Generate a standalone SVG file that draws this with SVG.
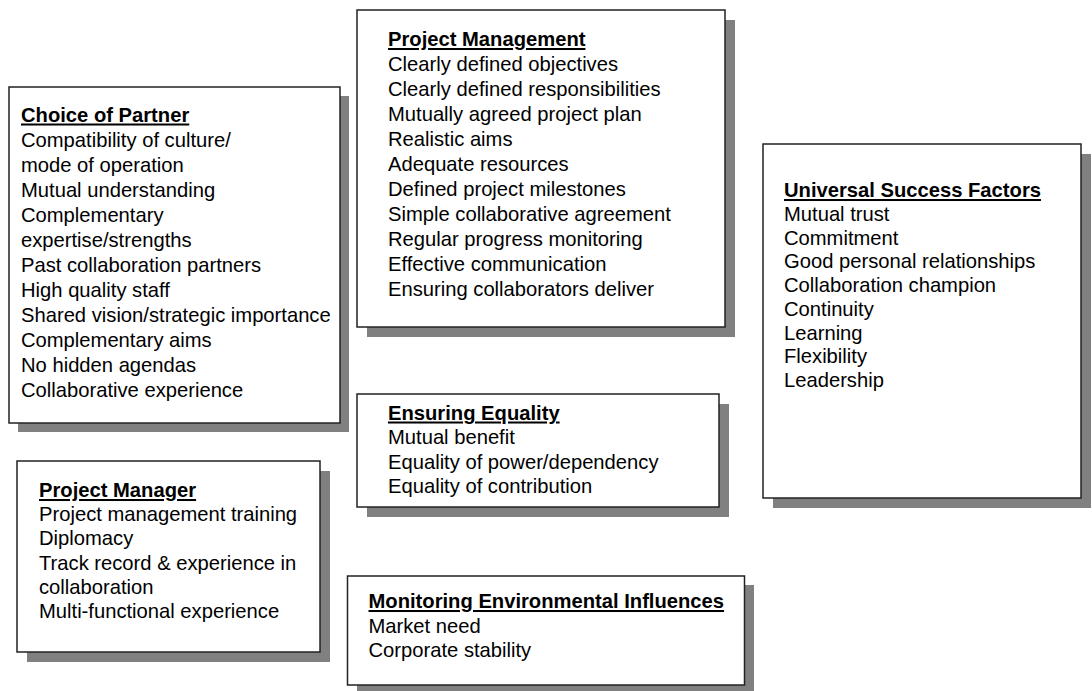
<svg xmlns="http://www.w3.org/2000/svg" width="1092" height="691" viewBox="0 0 1092 691">
  <style>
    .shadow { fill: #808080; }
    .box { fill: #ffffff; stroke: #222222; stroke-width: 1.5; }
    text { font-family: "Liberation Sans", Arial, Helvetica, sans-serif; font-size: 20.2px; fill: #000000; }
    .h { font-weight: bold; text-decoration: underline; }
  </style>
  <rect width="1092" height="691" fill="#ffffff"/>

  <!-- Choice of Partner -->
  <g id="choice-of-partner">
    <rect class="shadow" x="18" y="96" width="331" height="336"/>
    <rect class="box" x="9" y="87" width="331" height="336"/>
    <g transform="translate(21 121.5)">
      <text class="h" x="0" y="0">Choice of Partner</text>
      <text x="0" y="25">Compatibility of culture/</text>
      <text x="0" y="50">mode of operation</text>
      <text x="0" y="75">Mutual understanding</text>
      <text x="0" y="100">Complementary</text>
      <text x="0" y="125">expertise/strengths</text>
      <text x="0" y="150">Past collaboration partners</text>
      <text x="0" y="175">High quality staff</text>
      <text x="0" y="200">Shared vision/strategic importance</text>
      <text x="0" y="225">Complementary aims</text>
      <text x="0" y="250">No hidden agendas</text>
      <text x="0" y="275">Collaborative experience</text>
    </g>
  </g>

  <!-- Project Management -->
  <g id="project-management">
    <rect class="shadow" x="367" y="20" width="368" height="317"/>
    <rect class="box" x="357" y="10" width="368" height="317"/>
    <g transform="translate(388 46)">
      <text class="h" x="0" y="0">Project Management</text>
      <text x="0" y="25">Clearly defined objectives</text>
      <text x="0" y="50">Clearly defined responsibilities</text>
      <text x="0" y="75">Mutually agreed project plan</text>
      <text x="0" y="100">Realistic aims</text>
      <text x="0" y="125">Adequate resources</text>
      <text x="0" y="150">Defined project milestones</text>
      <text x="0" y="175">Simple collaborative agreement</text>
      <text x="0" y="200">Regular progress monitoring</text>
      <text x="0" y="225">Effective communication</text>
      <text x="0" y="250">Ensuring collaborators deliver</text>
    </g>
  </g>

  <!-- Universal Success Factors -->
  <g id="universal-success-factors">
    <rect class="shadow" x="773" y="154" width="318" height="354"/>
    <rect class="box" x="763" y="144" width="318" height="354"/>
    <g transform="translate(784 197)">
      <text class="h" x="0" y="0">Universal Success Factors</text>
      <text x="0" y="23.75">Mutual trust</text>
      <text x="0" y="47.5">Commitment</text>
      <text x="0" y="71.25">Good personal relationships</text>
      <text x="0" y="95">Collaboration champion</text>
      <text x="0" y="118.75">Continuity</text>
      <text x="0" y="142.5">Learning</text>
      <text x="0" y="166.25">Flexibility</text>
      <text x="0" y="190">Leadership</text>
    </g>
  </g>

  <!-- Ensuring Equality -->
  <g id="ensuring-equality">
    <rect class="shadow" x="367" y="404" width="362" height="113"/>
    <rect class="box" x="357" y="394" width="362" height="113"/>
    <g transform="translate(388 419.5)">
      <text class="h" x="0" y="0">Ensuring Equality</text>
      <text x="0" y="24.5">Mutual benefit</text>
      <text x="0" y="49">Equality of power/dependency</text>
      <text x="0" y="73.5">Equality of contribution</text>
    </g>
  </g>

  <!-- Project Manager -->
  <g id="project-manager">
    <rect class="shadow" x="27" y="471" width="303" height="191"/>
    <rect class="box" x="17" y="461" width="303" height="191"/>
    <g transform="translate(39 497)">
      <text class="h" x="0" y="0">Project Manager</text>
      <text x="0" y="24.2">Project management training</text>
      <text x="0" y="48.4">Diplomacy</text>
      <text x="0" y="72.6">Track record &amp; experience in</text>
      <text x="0" y="96.8">collaboration</text>
      <text x="0" y="121">Multi-functional experience</text>
    </g>
  </g>

  <!-- Monitoring Environmental Influences -->
  <g id="monitoring-environmental-influences">
    <rect class="shadow" x="357" y="585" width="397" height="110"/>
    <rect class="box" x="347.5" y="576" width="397" height="109"/>
    <g transform="translate(368.5 608)">
      <text class="h" x="0" y="0">Monitoring Environmental Influences</text>
      <text x="0" y="24.5">Market need</text>
      <text x="0" y="49">Corporate stability</text>
    </g>
  </g>

  <!-- no connectors between the factor groups -->
  <g id="connectors"/>
</svg>
